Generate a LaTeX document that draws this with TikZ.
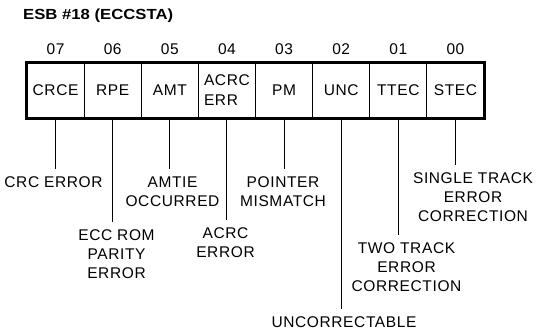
\documentclass[tikz,border=0pt]{standalone}
\usepackage{fontspec}
\setmainfont{Liberation Sans}[LetterSpace=4]
\newfontfamily\esbtitlefont{Liberation Sans}
\begin{document}
\begin{tikzpicture}[x=1pt,y=-1pt,
  cell/.style={draw,line width=1.1pt,minimum width=57.125pt,minimum height=55pt,inner sep=0pt,
    font=\fontsize{15.5}{20}\selectfont},
  bit/.style={anchor=base,inner sep=0pt,font=\fontsize{15.5}{19}\selectfont},
  lbl/.style={anchor=north,inner sep=0pt,outer xsep=0pt,outer ysep=8pt,align=center,
    font=\fontsize{15.5}{19}\selectfont},
  lead/.style={line width=1.1pt}]
\useasboundingbox (0,0) rectangle (540,333);

\node[anchor=base west,inner sep=0pt,
  font=\esbtitlefont\bfseries\fontsize{14}{16}\selectfont]
  (title) at (23,19.5) {\resizebox{150pt}{10.6pt}{ESB \#18 (ECCSTA)}};

% register cells
\node[cell] (c7) at (55.56,90.5) {CRCE};
\node[cell] (c6) at (112.69,90.5) {RPE};
\node[cell] (c5) at (169.81,90.5) {AMT};
\node[cell,align=left] (c4) at (226.94,90.5) {ACRC\\ERR};
\node[cell] (c3) at (284.06,90.5) {PM};
\node[cell] (c2) at (341.19,90.5) {UNC};
\node[cell] (c1) at (398.31,90.5) {TTEC};
\node[cell] (c0) at (455.44,90.5) {STEC};
\draw[line width=2pt] (c7.north west) rectangle (c0.south east);

% bit numbers
\node[bit] (b7) at ([yshift=7.5pt]c7.north) {07};
\node[bit] (b6) at ([yshift=7.5pt]c6.north) {06};
\node[bit] (b5) at ([yshift=7.5pt]c5.north) {05};
\node[bit] (b4) at ([yshift=7.5pt]c4.north) {04};
\node[bit] (b3) at ([yshift=7.5pt]c3.north) {03};
\node[bit] (b2) at ([yshift=7.5pt]c2.north) {02};
\node[bit] (b1) at ([yshift=7.5pt]c1.north) {01};
\node[bit] (b0) at ([yshift=7.5pt]c0.north) {00};

% descriptions
\node[lbl] (l7) at (53.5,168.5) {CRC ERROR};
\node[lbl] (l6) at (116.5,221.5) {ECC ROM\\PARITY\\ERROR};
\node[lbl] (l5) at (172.5,168.5) {AMTIE\\OCCURRED};
\node[lbl] (l4) at (225.5,219.5) {ACRC\\ERROR};
\node[lbl] (l3) at (283,168.5) {POINTER\\MISMATCH};
\node[lbl] (l2) at (344,308.5) {UNCORRECTABLE};
\node[lbl] (l1) at (406.5,234.5) {TWO TRACK\\ERROR\\CORRECTION};
\node[lbl] (l0) at (473,164.5) {SINGLE TRACK\\ERROR\\CORRECTION};

% leader lines
\draw[lead] (c7.south) -- (c7.south |- l7.north);
\draw[lead] (c6.south) -- (c6.south |- l6.north);
\draw[lead] (c5.south) -- (c5.south |- l5.north);
\draw[lead] (c4.south) -- (c4.south |- l4.north);
\draw[lead] (c3.south) -- (c3.south |- l3.north);
\draw[lead] (c2.south) -- (c2.south |- l2.north);
\draw[lead] (c1.south) -- (c1.south |- l1.north);
\draw[lead] (c0.south) -- (c0.south |- l0.north);
\end{tikzpicture}
\end{document}
